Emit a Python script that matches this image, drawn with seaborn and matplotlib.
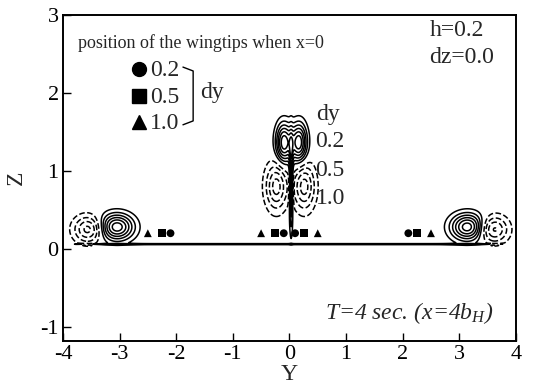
import numpy as np
import pandas as pd
import matplotlib
matplotlib.use("Agg")
import matplotlib.pyplot as plt
import seaborn as sns

# Wingtip positions at x=0 for each lateral offset dy
dy_labels = ["0.2", "0.5", "1.0"]
tip_y_02 = [-2.1, -0.1, 0.1, 2.1]
tip_y_05 = [-2.25, -0.25, 0.25, 2.25]
tip_y_10 = [-2.5, -0.5, 0.5, 2.5]
tip_z = 0.2

# Vortex cores seen in the cross plane at T=4 s (Y, Z, sign/strength, core sizes)
core_y = [-3.05, -3.55, 3.15, 3.6, -0.1, 0.17, -0.23, 0.26, 0.03]
core_z = [0.28, 0.25, 0.28, 0.25, 1.36, 1.36, 0.80, 0.80, 0.80]
core_amp = [1.0, -0.8, 1.0, -0.8, 1.0, 1.0, -0.8, -0.8, 0.9]
core_sy = [0.3, 0.24, 0.3, 0.24, 0.14, 0.14, 0.18, 0.18, 0.03]
core_sz = [0.17, 0.16, 0.17, 0.16, 0.25, 0.25, 0.28, 0.28, 0.5]

# Thin boundary layer sheet on the ground
sheet_z = 0.06
sheet_amp = 0.3
sheet_half_span = 3.82

sns.set_theme(style="ticks")
plt.rcParams["font.family"] = ["Liberation Serif", "DejaVu Serif"]
plt.rcParams["mathtext.fontset"] = "custom"
plt.rcParams["mathtext.rm"] = "Liberation Serif"
plt.rcParams["mathtext.it"] = "Liberation Serif:italic"

fig = plt.figure(figsize=(5.33, 3.9), dpi=100)
ax = fig.add_axes([0.118, 0.126, 0.850, 0.836])

# contour field
gy = np.linspace(-4, 4, 801)
gz = np.linspace(-0.1, 2.0, 841)
YY, ZZ = np.meshgrid(gy, gz)
field = np.zeros_like(YY)
for y0, z0, a, sy, sz in zip(core_y, core_z, core_amp, core_sy, core_sz):
    field += a * np.exp(-((YY - y0) / sy) ** 2 - ((ZZ - z0) / sz) ** 2)
window = 0.5 * (np.tanh((YY + sheet_half_span) / 0.05) - np.tanh((YY - sheet_half_span) / 0.05))
field += sheet_amp * np.exp(-((ZZ - sheet_z) / 0.008) ** 2) * window

levels = [-0.7, -0.5, -0.3, -0.12, 0.15, 0.3, 0.45, 0.6, 0.75, 0.9]
ax.contour(YY, ZZ, field, levels=levels, colors="black", linewidths=1.1,
           negative_linestyles="dashed")

# wingtip markers
tips = pd.DataFrame({
    "Y": tip_y_02 + tip_y_05 + tip_y_10,
    "Z": [tip_z] * 12,
    "dy": [dy_labels[0]] * 4 + [dy_labels[1]] * 4 + [dy_labels[2]] * 4,
})
sns.scatterplot(data=tips, x="Y", y="Z", style="dy",
                markers={"0.2": "o", "0.5": "s", "1.0": "^"},
                color="black", s=32, edgecolor="black", linewidth=0,
                legend=False, ax=ax, zorder=5)

ax.set_xlim(-4, 4)
ax.set_ylim(-1.18, 3)
ax.set_xticks([-4, -3, -2, -1, 0, 1, 2, 3, 4])
ax.set_yticks([-1, 0, 1, 2, 3])
ax.set_xticklabels(["-4", "-3", "-2", "-1", "0", "1", "2", "3", "4"])
ax.set_yticklabels(["-1", "0", "1", "2", "3"])
ax.tick_params(direction="in", length=6, width=1.0, labelsize=16, colors="black",
               pad=3)
for sp in ax.spines.values():
    sp.set_linewidth(1.4)
    sp.set_color("black")
ax.set_xlabel("Y", fontsize=17, labelpad=0)
ax.set_ylabel("Z", fontsize=17, labelpad=10)

# annotations
ax.text(-3.73, 2.64, "position of the wingtips when x=0", fontsize=13, va="center")
leg_x = -2.66
for yy, mk, lab in zip([2.31, 1.96, 1.63], ["o", "s", "^"], dy_labels):
    ax.plot([leg_x], [yy], marker=mk, color="black", markersize=10, ls="none")
    ax.text(leg_x + 0.2, yy - 0.02, lab, fontsize=17, va="center")
ax.plot([-1.88, -1.70, -1.70, -1.88], [2.33, 2.28, 1.64, 1.59], color="black", lw=1.0)
ax.text(-1.58, 2.0, "dy", fontsize=17, va="center")

ax.text(2.48, 2.8, "h=0.2", fontsize=17, va="center")
ax.text(2.46, 2.45, "dz=0.0", fontsize=17, va="center")

ax.text(0.47, 1.72, "dy", fontsize=17, va="center")
for yy, lab in zip([1.37, 1.01, 0.65], dy_labels):
    ax.text(0.46, yy, lab, fontsize=17, va="center")

ax.text(0.63, -0.82, r"$T$=4 sec. ($x$=4$b_{H}$)", fontsize=17, va="center",
        style="italic")

fig.savefig("out.png", dpi=100)
